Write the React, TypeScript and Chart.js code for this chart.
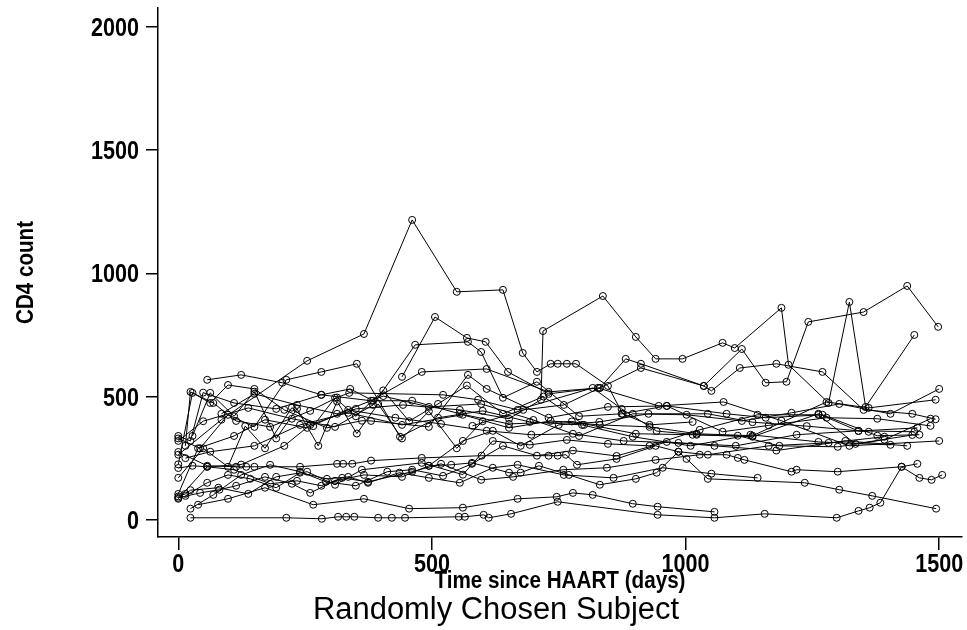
import React, { useEffect, useRef } from "react";
import { Chart, registerables } from "chart.js";
Chart.register(...registerables);

const xTicks = [0, 500, 1000, 1500];
const yTicks = [0, 500, 1000, 1500, 2000];
const xTitle = "Time since HAART (days)";
const yTitle = "CD4 count";
const mainTitle = "Randomly Chosen Subject";

const s1Days = [0, 85, 254, 366, 461, 549, 640, 679, 707, 734, 748, 766, 784, 847, 876, 929, 1014];
const s1Cd4 = [264, 406, 645, 754, 1217, 925, 933, 677, 600, 633, 633, 633, 633, 543, 430, 385, 397];
const s2Days = [0, 57, 124, 209, 260, 350, 443, 555, 652, 715, 719, 837, 902, 941, 994, 1073, 1097, 1189, 1203, 1282, 1323, 1355, 1451];
const s2Cd4 = [85, 215, 224, 300, 385, 450, 466, 446, 410, 487, 766, 908, 742, 653, 653, 718, 697, 860, 629, 474, 884, 458, 750];
const s3Days = [0, 24, 49, 110, 193, 282, 380, 480, 608, 730, 831, 912, 1036, 1111, 1158, 1199, 1242, 1351, 1437, 1498];
const s3Cd4 = [340, 320, 516, 474, 450, 507, 483, 600, 612, 519, 535, 616, 543, 693, 556, 560, 803, 843, 949, 783];
const s4Days = [57, 124, 205, 282, 339, 384, 461, 555, 652, 776, 902, 1014, 1132, 1262, 1341, 1457];
const s4Cd4 = [568, 588, 556, 507, 531, 483, 483, 430, 389, 399, 349, 345, 337, 430, 360, 373];
const s5Days = [0, 28, 63, 98, 150, 209, 293, 362, 380, 494, 571, 608, 730, 847, 963, 1081, 1158, 1270, 1378, 1461];
const s5Cd4 = [225, 515, 474, 547, 531, 446, 373, 402, 401, 377, 588, 531, 414, 458, 462, 430, 414, 426, 341, 345];
const s6Days = [14, 24, 69, 114, 181, 260, 313, 337, 522, 591, 669, 817, 874, 943, 1022, 1103, 1185, 1300, 1392, 1483];
const s6Cd4 = [300, 519, 474, 401, 377, 442, 496, 515, 507, 487, 446, 535, 450, 360, 345, 341, 300, 296, 325, 410];
const s7Days = [0, 14, 24, 79, 138, 193, 254, 309, 362, 480, 561, 620, 693, 766, 847, 929, 1028, 1142, 1262, 1335, 1447];
const s7Cd4 = [95, 105, 120, 130, 105, 174, 195, 142, 203, 231, 183, 320, 304, 324, 308, 300, 365, 426, 426, 308, 344];
const s8Days = [24, 213, 283, 315, 331, 347, 394, 421, 447, 553, 565, 602, 612, 656, 748, 945, 1057, 1156, 1298, 1341, 1363, 1384, 1426, 1461, 1485, 1506];
const s8Cd4 = [8, 8, 4, 12, 12, 12, 8, 8, 8, 12, 12, 20, 8, 24, 73, 20, 8, 24, 8, 36, 49, 69, 215, 170, 162, 182];
const s9Days = [0, 43, 81, 114, 171, 224, 260, 309, 366, 441, 494, 538, 579, 652, 675, 711, 770, 831, 902, 943, 986, 1002, 1044, 1235, 1303, 1368, 1494];
const s9Cd4 = [89, 109, 122, 138, 174, 146, 109, 158, 182, 174, 219, 223, 231, 191, 191, 219, 182, 142, 166, 191, 276, 247, 166, 150, 122, 97, 45];
const s10Days = [0, 28, 57, 110, 181, 234, 282, 323, 374, 461, 518, 597, 660, 759, 845, 941, 1028, 1081, 1103, 1116, 1209, 1219, 1300, 1426, 1457];
const s10Cd4 = [210, 219, 215, 203, 146, 158, 138, 170, 154, 195, 227, 162, 174, 203, 211, 243, 264, 264, 251, 243, 195, 203, 195, 215, 227];
const s11Days = [39, 98, 171, 266, 366, 455, 561, 669, 746, 778, 817, 896, 945, 1057];
const s11Cd4 = [61, 85, 130, 61, 85, 45, 49, 85, 93, 109, 101, 65, 53, 32];
const s12Days = [0, 57, 114, 134, 150, 240, 313, 325, 343, 380, 480, 598, 730, 748, 764, 786, 864, 941, 986, 1044, 1164, 1282, 1392];
const s12Cd4 = [275, 219, 215, 215, 215, 215, 227, 227, 227, 240, 251, 260, 260, 260, 264, 223, 247, 300, 276, 264, 300, 312, 337];
const s13Days = [14, 63, 150, 240, 335, 441, 561, 652, 734, 831, 929, 1022, 1132, 1278, 1361, 1493];
const s13Cd4 = [250, 276, 300, 385, 434, 385, 426, 373, 401, 385, 377, 349, 341, 478, 454, 487];
const s14Days = [0, 43, 98, 150, 213, 282, 352, 437, 512, 600, 693, 796, 896, 1010, 1128, 1262, 1404];
const s14Cd4 = [330, 290, 426, 377, 568, 600, 633, 337, 414, 442, 397, 385, 337, 300, 345, 316, 304];
const s15Days = [441, 506, 569, 606, 650, 730, 827, 947, 1075, 1189, 1323, 1500];
const s15Cd4 = [580, 823, 738, 722, 600, 511, 535, 462, 478, 402, 300, 320];
const s16Days = [0, 49, 138, 224, 309, 384, 467, 571, 597, 640, 707, 790, 874, 963, 1073, 1164, 1278, 1378, 1483];
const s16Cd4 = [320, 400, 454, 410, 377, 466, 710, 722, 681, 495, 560, 420, 430, 462, 357, 383, 414, 410, 381];
const s17Days = [14, 57, 98, 142, 193, 240, 293, 335, 374, 436, 494, 555, 620, 669, 760, 858, 955, 1051, 1142];
const s17Cd4 = [97, 150, 182, 166, 130, 191, 166, 174, 150, 191, 170, 150, 211, 223, 182, 170, 211, 187, 170];
const s18Days = [24, 69, 124, 181, 240, 291, 350, 412, 461, 522, 579, 640, 707, 778, 864, 963, 1057, 1179, 1315, 1437];
const s18Cd4 = [45, 101, 182, 223, 195, 154, 138, 195, 203, 178, 227, 300, 260, 281, 259, 316, 300, 281, 320, 300];
const s19Days = [0, 39, 110, 171, 254, 335, 428, 518, 608, 696, 778, 878, 986, 1099, 1219, 1341, 1451];
const s19Cd4 = [105, 290, 340, 406, 373, 446, 414, 389, 361, 345, 349, 320, 312, 300, 345, 361, 357];
const s20Days = [85, 150, 234, 313, 404, 494, 597, 700, 790, 896, 1002, 1111, 1209, 1303, 1404, 1500];
const s20Cd4 = [430, 511, 466, 430, 502, 458, 470, 405, 340, 430, 426, 401, 434, 470, 430, 531];
const s21Days = [580, 680, 760, 831, 882, 912, 1036, 1051, 1107, 1179, 1270, 1351, 1447, 1493];
const s21Cd4 = [381, 446, 466, 535, 653, 633, 543, 523, 616, 633, 600, 446, 430, 408];
const s22Days = [494, 561, 620, 675, 750, 830, 927, 1044, 1132, 1239, 1361];
const s22Cd4 = [219, 320, 361, 300, 385, 397, 430, 430, 396, 380, 357];
const s23Days = [28, 63, 110, 150, 193, 234, 276, 313, 352, 394, 441, 494, 549, 600];
const s23Cd4 = [340, 515, 420, 520, 330, 450, 300, 480, 350, 470, 330, 440, 290, 400];
const s24Days = [0, 49, 98, 132, 171, 224, 266, 309, 350, 404, 455, 512, 569, 640, 720, 800];
const s24Cd4 = [170, 290, 215, 380, 290, 455, 380, 495, 420, 525, 400, 470, 545, 430, 500, 385];

const subjects: [number[], number[]][] = [
  [s1Days, s1Cd4], [s2Days, s2Cd4], [s3Days, s3Cd4], [s4Days, s4Cd4],
  [s5Days, s5Cd4], [s6Days, s6Cd4], [s7Days, s7Cd4], [s8Days, s8Cd4],
  [s9Days, s9Cd4], [s10Days, s10Cd4], [s11Days, s11Cd4], [s12Days, s12Cd4],
  [s13Days, s13Cd4], [s14Days, s14Cd4], [s15Days, s15Cd4], [s16Days, s16Cd4],
  [s17Days, s17Cd4], [s18Days, s18Cd4], [s19Days, s19Cd4], [s20Days, s20Cd4],
  [s21Days, s21Cd4], [s22Days, s22Cd4], [s23Days, s23Cd4], [s24Days, s24Cd4],
];

const FONT = '"Liberation Sans", Arial, Helvetica, sans-serif';

function drawText(ctx: CanvasRenderingContext2D, text: string, x: number, y: number, size: number, weight: string, targetWidth: number | null, align: CanvasTextAlign, rot = 0) {
  ctx.save();
  ctx.font = `${weight} ${size}px ${FONT}`;
  const w = ctx.measureText(text).width;
  const sx = targetWidth ? targetWidth / w : 1;
  ctx.translate(x, y);
  if (rot) ctx.rotate(rot);
  ctx.scale(sx, 1);
  ctx.textAlign = align;
  ctx.textBaseline = "alphabetic";
  ctx.fillStyle = "#000";
  ctx.fillText(text, 0, 0);
  ctx.restore();
}

const textPlugin = {
  id: "stataText",
  afterDraw(chart: any) {
    const ctx = chart.ctx as CanvasRenderingContext2D;
    const xs = chart.scales.x;
    const ys = chart.scales.y;
    const area = chart.chartArea;
    yTicks.forEach((v) => drawText(ctx, String(v), 139, ys.getPixelForValue(v) + 9, 25, "bold", String(v).length * 12, "right"));
    xTicks.forEach((v) => drawText(ctx, String(v), xs.getPixelForValue(v), 572, 25, "bold", String(v).length * 12, "center"));
    drawText(ctx, xTitle, (area.left + area.right) / 2, 588, 23, "bold", 251, "center");
    drawText(ctx, mainTitle, 496, 619, 31, "normal", 366, "center");
    drawText(ctx, yTitle, 33, (area.top + area.bottom) / 2, 23, "bold", 103, "center", -Math.PI / 2);
  },
};

export default function App() {
  const ref = useRef<HTMLCanvasElement | null>(null);
  useEffect(() => {
    document.body.style.margin = "0";
    const canvas = ref.current;
    if (!canvas) return;
    const datasets = subjects.map(([days, cd4], i) => ({
      label: `Subject ${i + 1}`,
      data: days.map((d, j) => ({ x: d, y: cd4[j] })),
      showLine: true,
      borderColor: "#000",
      borderWidth: 1,
      pointRadius: 3.5,
      pointBorderWidth: 1,
      pointBorderColor: "#000",
      pointBackgroundColor: "rgba(0,0,0,0)",
      tension: 0,
    }));
    const chart = new Chart(canvas, {
      type: "scatter",
      data: { datasets },
      options: {
        animation: false,
        responsive: false,
        layout: { padding: { top: 8, right: 4, left: 0, bottom: 0 } },
        plugins: { legend: { display: false }, tooltip: { enabled: false }, title: { display: false } },
        scales: {
          x: {
            type: "linear",
            min: -40,
            max: 1545,
            afterBuildTicks: (s: any) => { s.ticks = xTicks.map((v) => ({ value: v })); },
            afterFit: (s: any) => { s.height = 93; },
            ticks: { display: false },
            grid: { drawOnChartArea: false, drawTicks: true, tickLength: 13, color: "#000", lineWidth: 1.5 },
            border: { display: true, color: "#000", width: 1.5 },
          },
          y: {
            type: "linear",
            min: -70,
            max: 2077,
            afterBuildTicks: (s: any) => { s.ticks = yTicks.map((v) => ({ value: v })); },
            afterFit: (s: any) => { s.width = 158; },
            ticks: { display: false },
            grid: { drawOnChartArea: false, drawTicks: true, tickLength: 12, color: "#000", lineWidth: 1.5 },
            border: { display: true, color: "#000", width: 1.5 },
          },
        },
      },
      plugins: [textPlugin],
    } as any);
    return () => chart.destroy();
  }, []);
  return <canvas ref={ref} width={967} height={630} style={{ display: "block" }} />;
}
